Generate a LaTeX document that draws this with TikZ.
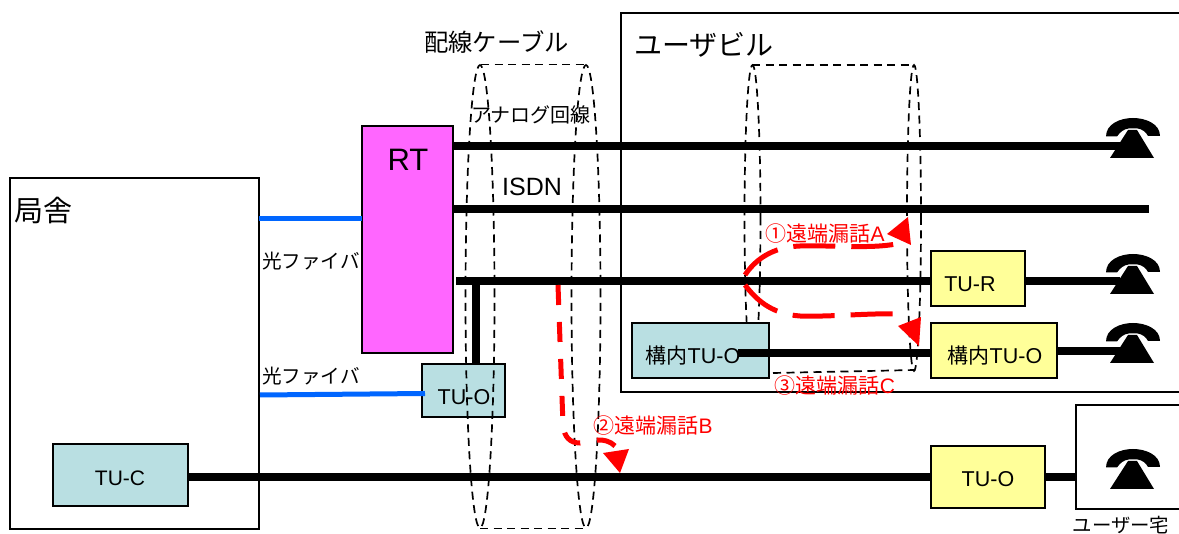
\documentclass[tikz,border=0pt]{standalone}
\usepackage{fontspec}
\setmainfont{Liberation Sans}
\newfontfamily\jp{Noto Sans CJK JP}
\newcommand{\sz}[1]{\fontsize{#1}{#1}\selectfont}
\definecolor{tealbox}{HTML}{B9DFE2}
\definecolor{yelbox}{HTML}{FFFF99}
\definecolor{rtpink}{HTML}{FF66FF}
\definecolor{fibre}{HTML}{0066FF}
\tikzset{
  x=1pt,y=-1pt,
  plainbox/.style={draw=black,line width=2pt,fill=white,anchor=north west,inner sep=0pt,outer sep=0pt},
  tealnode/.style={plainbox,fill=tealbox},
  yelnode/.style={plainbox,fill=yelbox},
  pinknode/.style={plainbox,fill=rtpink},
  thick line/.style={line width=8pt,black},
  fibreline/.style={line width=5pt,fibre},
  cable/.style={draw=black,line width=1.7pt,dash pattern=on 8pt off 5.5pt},
  redflow/.style={red,line width=5pt,dash pattern=on 42pt off 16pt},
  redflowb/.style={red,line width=5pt,dash pattern=on 20pt off 17pt},
  redtip/.style={fill=red,draw=none},
  txt/.style={inner sep=0pt,outer sep=0pt,text=black},
  redtxt/.style={inner sep=0pt,outer sep=0pt,text=red},
  phone/.pic={
    \fill[black] (-27,-9.5) .. controls (-27,-22) and (-13,-28) .. (0,-28)
      .. controls (13,-28) and (27,-22) .. (27,-10)
      -- (15,-10) .. controls (13,-14) and (9,-17) .. (4.5,-17.5)
      -- (-4.5,-17.5) .. controls (-9,-17) and (-13,-14) .. (-16,-9.5) -- cycle;
    \fill[black] (-23,12) -- (21,12) -- (4,-16) -- (-5,-16) -- cycle;
  }
}
\begin{document}
\begin{tikzpicture}
\useasboundingbox (0,0) rectangle (1179,534);
\fill[white] (0,0) rectangle (1179,534);

% outer frames
\node[plainbox,minimum width=249pt,minimum height=351pt] (office) at (10,178) {};
\node[plainbox,minimum width=570pt,minimum height=379pt] (bldg) at (621,13) {};
\node[plainbox,minimum width=115pt,minimum height=104pt] (home) at (1076,405) {};

% coordinates of free ends
\coordinate (ph1) at (1120,146.5);
\coordinate (ph2) at (1120,281.5);
\coordinate (ph3) at (1120,351);
\coordinate (isdnend) at (1149,209);
\coordinate (branch) at (476,281.5);
\coordinate (analogstart) at (456,281.5);
\coordinate (inTUstart) at (738,353);

% boxes that sit under the lines
\node[pinknode,minimum width=91pt,minimum height=227pt] (RT) at (362,126) {};
\node[tealnode,minimum width=83pt,minimum height=53pt] (TUOa) at (422,364) {};
\node[tealnode,minimum width=135pt,minimum height=62pt] (TUC) at (53,444) {};
\node[yelnode,minimum width=94pt,minimum height=55pt] (TUR) at (931,251) {};
\node[yelnode,minimum width=126pt,minimum height=55pt] (TUOb) at (931,323) {};
\node[yelnode,minimum width=114pt,minimum height=62pt] (TUOc) at (931,446) {};

% cable bundle 1
\draw[cable] (480,296.5) ellipse [x radius=14.5pt,y radius=231.5pt];
\draw[cable] (586,296.5) ellipse [x radius=14.5pt,y radius=231.5pt];
\draw[cable] (481,64.5) -- (585,64.5);
\draw[cable] (480,528.5) -- (585,528.5);
% cable bundle 2
\draw[cable] (752.5,218) ellipse [x radius=8pt,y radius=153pt];
\draw[cable] (914,218) ellipse [x radius=7pt,y radius=153pt];
\draw[cable] (752,65) -- (914,65);
\draw[cable] (773,373) -- (915,370);

% lines
\draw[fibreline] (office.east |- 0,219) -- (RT.west |- 0,219);
\draw[fibreline] (260,395) -- (425,393.5);
\draw[thick line] (RT.east |- ph1) -- (ph1);
\draw[thick line] (RT.east |- isdnend) -- (isdnend);
\draw[thick line] (analogstart) -- (TUR.west |- analogstart);
\draw[thick line] (TUR.east |- ph2) -- (ph2);
\draw[thick line] (branch) -- (TUOa.north -| branch);
\draw[thick line] (TUC.east |- 0,477.5) -- (TUOc.west |- 0,477.5);
\draw[thick line] (TUOc.east |- 0,477.5) -- (home.west |- 0,477.5);
\draw[thick line] (TUOb.east |- ph3) -- (ph3);

% inner TU-O left box (covers cable 2) then its line
\node[tealnode,minimum width=137pt,minimum height=55pt] (TUOd) at (632,323) {};
\draw[thick line] (inTUstart) -- (TUOb.west |- inTUstart);

% phones
\pic at (1133,146) {phone};
\pic at (1133,282) {phone};
\pic at (1133,351) {phone};
\pic at (1133,477) {phone};

% red flows
\draw[redflow] (745,275) .. controls (755,260) and (772,247) .. (800,246) .. controls (830,245) and (870,249) .. (896,244);
\draw[redflow] (745,285) .. controls (755,298) and (770,314) .. (800,316) .. controls (830,317) and (870,313) .. (896,314);
\draw[redflowb] (558,285) -- (563,425) .. controls (564,437) and (570,443) .. (580,443) .. controls (590,441) and (605,436) .. (615,446);
\fill[redtip] (887,234) -- (908,217) -- (911,245) -- cycle;
\fill[redtip] (898,326) -- (921,317) -- (919,346) -- cycle;
\fill[redtip] (603,453) -- (629,449) -- (620,473) -- cycle;

% texts
\node[txt] (t1) at (496.5,42) {\jp\sz{24.3}配線ケーブル};
\node[txt] (t2) at (704,45) {\jp\sz{28}ユーザビル};
\node[txt] (t3) at (43,210) {\jp\sz{29}局舎};
\node[txt] (t4) at (408,160) {\sz{31}RT};
\node[txt] (t5) at (531,115) {\jp\sz{20}アナログ回線};
\node[txt] (t6) at (532,187) {\sz{25}ISDN};
\node[txt] (t7) at (311,261) {\jp\sz{19.6}光ファイバ};
\node[txt] (t8) at (311,376) {\jp\sz{19.6}光ファイバ};
\node[txt] (t9) at (120,478) {\sz{21}TU-C};
\node[txt] (t10) at (464,397) {\sz{21.5}TU-O};
\node[txt] (t11) at (693,356) {{\jp\sz{21}構内}\sz{21.5}TU-O};
\node[txt] (t12) at (970,284) {\sz{21.5}TU-R};
\node[txt] (t13) at (995,356) {{\jp\sz{21}構内}\sz{21.5}TU-O};
\node[txt] (t14) at (988,479) {\sz{21.5}TU-O};
\node[txt] (t15) at (1121,525) {\jp\sz{19.4}ユーザー宅};
\node[redtxt] (r1) at (825,234) {{\jp\sz{21}①遠端漏話}\sz{21}A};
\node[redtxt] (r2) at (653,426) {{\jp\sz{21}②遠端漏話}\sz{21}B};
\node[redtxt] (r3) at (835,386) {{\jp\sz{21}③遠端漏話}\sz{21}C};
\end{tikzpicture}
\end{document}
